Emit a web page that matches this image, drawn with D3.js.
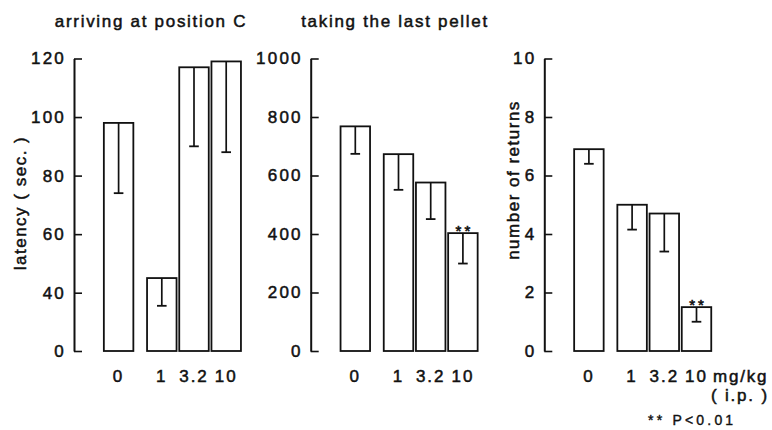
<!DOCTYPE html>
<html>
<head>
<meta charset="utf-8">
<script src="https://cdn.jsdelivr.net/npm/d3@7"></script>
<style>
  body { margin: 0; background: #fff; }
  svg text { font-family: "Liberation Sans", Arial, Helvetica, sans-serif; fill: #111; }
</style>
</head>
<body>
<svg id="chart" width="772" height="430"></svg>
<script>
// doses (mg/kg, i.p.)
const doses = ['0', '1', '3.2', '10'];

// latency to arrive at position C (sec.), mean and lower end of error bar
const arrivingMean = [98, 45, 117, 119];
const arrivingLow = [74, 31, 90, 88];
const arrivingTicks = [0, 40, 60, 80, 100, 120];

// latency to take the last pellet (sec.)
const pelletMean = [768, 673, 576, 403];
const pelletLow = [674, 551, 451, 299];
const pelletTicks = [0, 200, 400, 600, 800, 1000];

// number of returns
const returnsMean = [6.9, 5.0, 4.7, 1.5];
const returnsLow = [6.4, 4.15, 3.4, 1.0];
const returnsTicks = [0, 2, 4, 6, 8, 10];

// ** marks (P<0.01)
const pelletSig = [false, false, false, true];
const returnsSig = [false, false, false, true];

const svg = d3.select('#chart');
const yBottom = 351;
const yTop = 58.5;
const barW = 29.5;
const step = 32.2;
const zeroGap = 11;
const ink = '#111';

// scanned print looks heavy, thicken glyphs a bit
const heavy = (sel, w = 0.5) => sel.attr('stroke', ink).attr('stroke-width', w);

function panel({axisX, mean, low, ticks, sig, scale, title, titleX, yLabel, yLabelX, yLabelY}) {
  const g = svg.append('g');

  const x = d3
    .scaleBand()
    .domain(doses)
    .range([axisX + 39.5, axisX + 39.5 + step * doses.length])
    .paddingInner(1 - barW / step)
    .paddingOuter((1 - barW / step) / 2);
  const xPos = (d) => x(d) - (d === '0' ? zeroGap : 0);

  const y = scale;

  const yAxis = d3
    .axisLeft(y)
    .tickValues(ticks)
    .tickSize(-8)
    .tickSizeOuter(0)
    .tickPadding(8)
    .tickFormat(d3.format('d'));

  g.append('g')
    .attr('transform', `translate(${axisX},0)`)
    .call(yAxis)
    .call((a) => a.select('.domain').attr('stroke', ink).attr('stroke-width', 2))
    .call((a) => a.selectAll('.tick line').attr('stroke', ink).attr('stroke-width', 1.6))
    .call((a) =>
      a
        .selectAll('.tick text')
        .attr('font-size', '17px')
        .attr('letter-spacing', '2.2px')
        .attr('fill', ink)
        .attr('font-family', '"Liberation Sans", Arial, sans-serif')
        .call(heavy)
    );

  const data = doses.map((d, i) => ({dose: d, mean: mean[i], low: low[i], sig: sig ? sig[i] : false}));

  g.selectAll('.bar')
    .data(data)
    .join('rect')
    .attr('class', 'bar')
    .attr('x', (d) => xPos(d.dose))
    .attr('y', (d) => y(d.mean))
    .attr('width', x.bandwidth())
    .attr('height', (d) => yBottom - y(d.mean))
    .attr('fill', '#fff')
    .attr('stroke', ink)
    .attr('stroke-width', 1.8);

  const cx = (d) => xPos(d.dose) + x.bandwidth() / 2;

  g.selectAll('.err')
    .data(data)
    .join('line')
    .attr('class', 'err')
    .attr('x1', cx)
    .attr('x2', cx)
    .attr('y1', (d) => y(d.mean))
    .attr('y2', (d) => y(d.low))
    .attr('stroke', ink)
    .attr('stroke-width', 1.7);

  g.selectAll('.cap')
    .data(data)
    .join('line')
    .attr('class', 'cap')
    .attr('x1', (d) => cx(d) - 4.8)
    .attr('x2', (d) => cx(d) + 4.8)
    .attr('y1', (d) => y(d.low))
    .attr('y2', (d) => y(d.low))
    .attr('stroke', ink)
    .attr('stroke-width', 1.8);

  g.selectAll('.sig')
    .data(data.filter((d) => d.sig))
    .join('text')
    .attr('class', 'sig')
    .attr('x', (d) => cx(d) + 1.5)
    .attr('y', (d) => y(d.mean) + 2.5)
    .attr('text-anchor', 'middle')
    .attr('font-size', '15px')
    .attr('letter-spacing', '3px')
    .call(heavy, 0.6)
    .text('**');

  g.selectAll('.xlab')
    .data(data)
    .join('text')
    .attr('class', 'xlab')
    .attr('x', (d) => cx(d))
    .attr('y', 381.5)
    .attr('text-anchor', 'middle')
    .attr('font-size', '17px')
    .attr('letter-spacing', '2px')
    .call(heavy)
    .text((d) => d.dose);

  if (title) {
    g.append('text')
      .attr('x', titleX)
      .attr('y', 27)
      .attr('text-anchor', 'middle')
      .attr('font-size', '17px')
      .attr('letter-spacing', '1.7px')
      .call(heavy)
      .text(title);
  }

  if (yLabel) {
    g.append('text')
      .attr('transform', `translate(${yLabelX},${yLabelY}) rotate(-90)`)
      .attr('text-anchor', 'middle')
      .attr('font-size', '17px')
      .attr('letter-spacing', '1.5px')
      .call(heavy)
      .text(yLabel);
  }
}

// broken axis: 0 sits one tick-step below 40
const yArriving = d3.scaleLinear().domain([0, 40, 120]).range([yBottom, 292.7, yTop]);
const yPellet = d3.scaleLinear().domain([0, 1000]).range([yBottom, yTop]);
const yReturns = d3.scaleLinear().domain([0, 10]).range([yBottom, yTop]);

panel({
  axisX: 74,
  mean: arrivingMean,
  low: arrivingLow,
  ticks: arrivingTicks,
  scale: yArriving,
  title: 'arriving at position C',
  titleX: 151,
  yLabel: 'latency ( sec. )',
  yLabelX: 26,
  yLabelY: 203
});

panel({
  axisX: 310.7,
  mean: pelletMean,
  low: pelletLow,
  ticks: pelletTicks,
  sig: pelletSig,
  scale: yPellet,
  title: 'taking the last pellet',
  titleX: 395
});

panel({
  axisX: 544.3,
  mean: returnsMean,
  low: returnsLow,
  ticks: returnsTicks,
  sig: returnsSig,
  scale: yReturns,
  yLabel: 'number of returns',
  yLabelX: 519,
  yLabelY: 180
});

// unit note and significance key
svg.append('text')
  .attr('x', 713)
  .attr('y', 381.5)
  .attr('font-size', '17px')
  .attr('letter-spacing', '1.8px')
  .call(heavy)
  .text('mg/kg');

svg.append('text')
  .attr('x', 711)
  .attr('y', 401)
  .attr('font-size', '17px')
  .attr('letter-spacing', '1.8px')
  .call(heavy)
  .text('( i.p. )');

svg.append('text')
  .attr('x', 648)
  .attr('y', 425)
  .attr('font-size', '14px')
  .attr('letter-spacing', '3.2px')
  .call(heavy, 0.4)
  .text('** P<0.01');
</script>
</body>
</html>
